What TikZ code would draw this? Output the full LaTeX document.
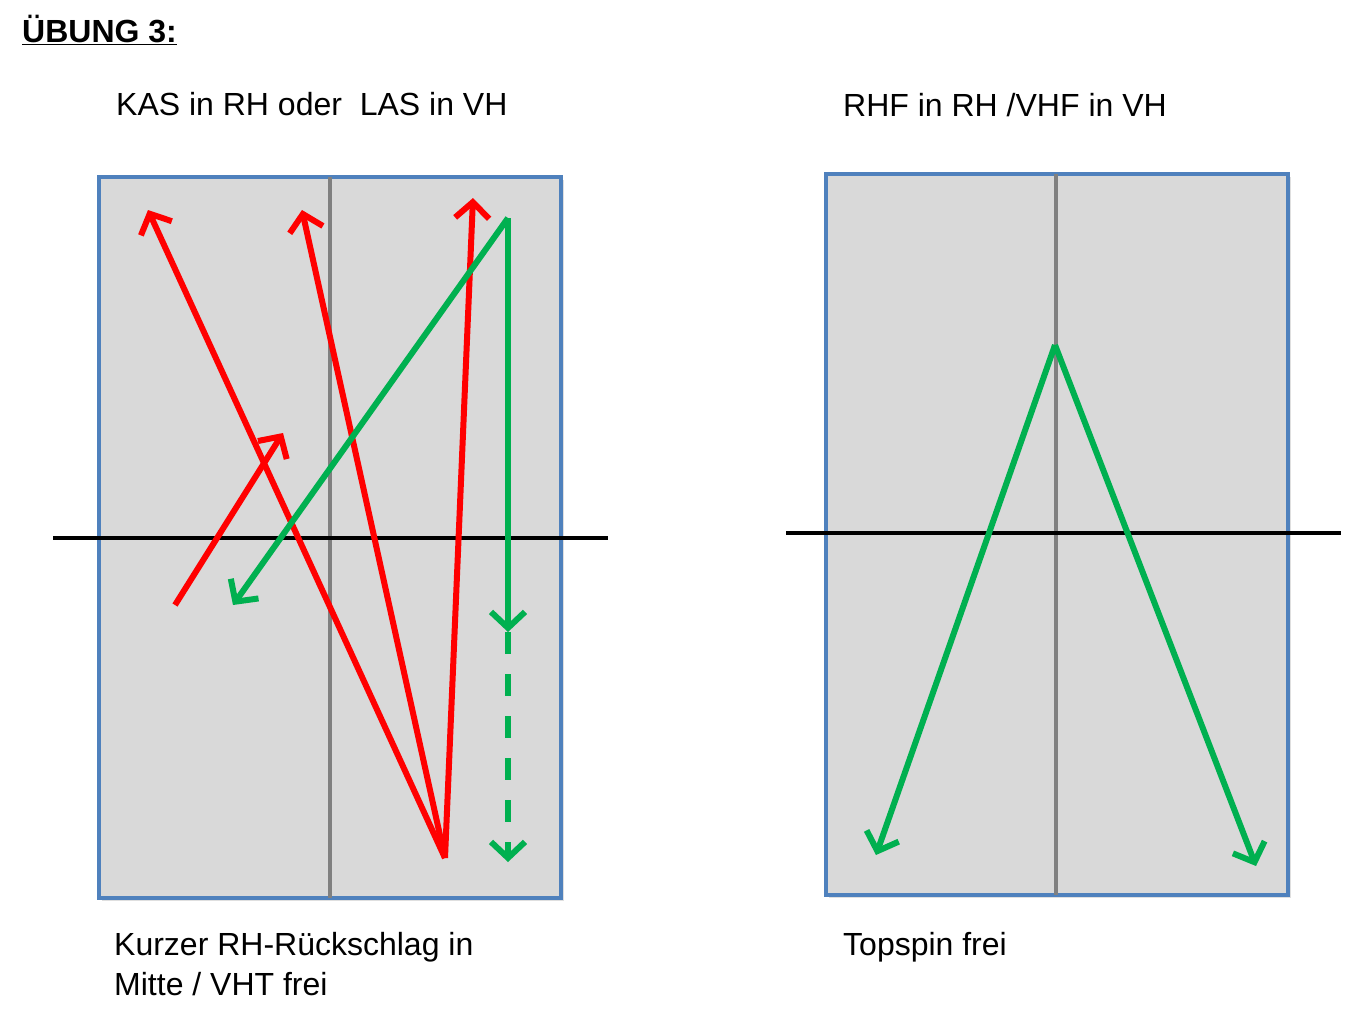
\documentclass[tikz,border=0pt]{standalone}
\usepackage{fontspec}
\setmainfont{Liberation Sans}
\usetikzlibrary{arrows.meta}
\definecolor{tblue}{HTML}{4F81BD}
\definecolor{tfill}{HTML}{D9D9D9}
\definecolor{tgreen}{HTML}{00B050}
\definecolor{tred}{HTML}{FF0000}
\begin{document}
\begin{tikzpicture}[x=1pt,y=-1pt,
  tabletop/.style={draw=tblue,fill=tfill,line width=3.5pt},
  midline/.style={draw=gray,line width=3.5pt},
  netline/.style={draw=black,line width=3.5pt},
  redshot/.style={draw=tred,line width=6pt,-{Straight Barb[length=16pt,width=34pt]}},
  greenshot/.style={draw=tgreen,line width=6pt,-{Straight Barb[length=16pt,width=34pt]}},
  lbl/.style={anchor=base west,inner sep=0pt,font=\fontsize{32}{40}\selectfont}]
\useasboundingbox (0,0) rectangle (1357,1013);
% left table
\fill[black!25,opacity=0.5] (102,180) rectangle (564,901);
\draw[tabletop] (99,177) rectangle (561,898);
\draw[midline] (330,177) -- (330,898);
\draw[netline] (53,538) -- (608,538);
% right table
\fill[black!25,opacity=0.5] (829,177) rectangle (1291,898);
\draw[tabletop] (826,174) rectangle (1288,895);
\draw[midline] (1056,174) -- (1056,895);
\draw[netline] (786,533) -- (1341,533);
% left shot points
\coordinate (r0) at (445,858);
\coordinate (r1) at (148,210);
\coordinate (r2) at (302,210);
\coordinate (r3) at (473,198);
\coordinate (r4s) at (175,605);
\coordinate (r4e) at (283,433);
\coordinate (g0) at (508,218);
\coordinate (g1) at (233,605);
\coordinate (g2) at (508,632);
\coordinate (g3) at (508,862);
\draw[redshot] (r0) -- (r1);
\draw[redshot] (r0) -- (r2);
\draw[redshot] (r0) -- (r3);
\draw[redshot] (r4s) -- (r4e);
\draw[greenshot] (g0) -- (g1);
\draw[greenshot] (g0) -- (g2);
\draw[greenshot,dash pattern=on 22pt off 20pt] (g2) -- (g3);
% right shot points
\coordinate (p0) at (1055,345);
\coordinate (p1) at (876,855);
\coordinate (p2) at (1256,866);
\draw[greenshot] (p0) -- (p1);
\draw[greenshot] (p0) -- (p2);
% texts
\node[lbl,font=\fontsize{32}{40}\selectfont\bfseries] (title) at (22,42) {\underline{ÜBUNG 3:}};
\node[lbl] (t1) at (116,115) {KAS in RH oder\ \ LAS in VH};
\node[lbl] (t2) at (843,116) {RHF in RH /VHF in VH};
\node[lbl,align=left] (b1) at (114,995) {Kurzer RH-Rückschlag in\\Mitte / VHT frei};
\node[lbl] (b2) at (843,955) {Topspin frei};
\end{tikzpicture}
\end{document}
